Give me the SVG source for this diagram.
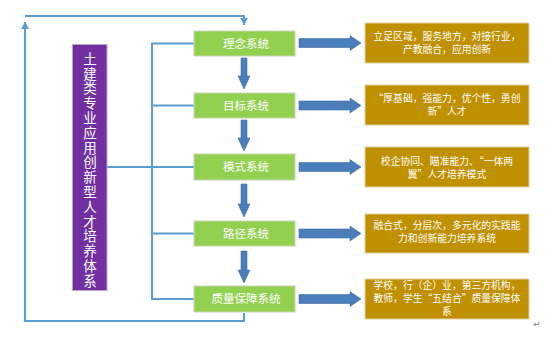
<svg xmlns="http://www.w3.org/2000/svg" width="560" height="340" viewBox="0 0 560 340">
<defs>
<style>
.ln{fill:none;stroke:#5b9bd5;stroke-width:2}
.g rect{fill:#92d050;stroke:#c9d6b8;stroke-width:1}
.b rect{fill:#bf9000;stroke:#e0d2a8;stroke-width:1}
.gt{font-family:"Noto Sans CJK SC","Noto Sans",sans-serif;font-size:11.5px;fill:#fff;text-anchor:middle}
.bt{font-family:"Noto Sans CJK SC","Noto Sans",sans-serif;font-size:9.8px;fill:#fff;text-anchor:middle}
.ar{fill:#4a7ebb;stroke:#3f6fa6;stroke-width:0.6}
.pt{font-family:"Noto Sans CJK SC","Noto Sans",sans-serif;font-size:13.5px;fill:#fff;writing-mode:vertical-rl;letter-spacing:1.3px}
</style>
<marker id="ah" markerUnits="userSpaceOnUse" markerWidth="10" markerHeight="8" refX="7" refY="4" orient="auto">
<path d="M0,0 L7,4 L0,8 Z" fill="#5b9bd5"/>
</marker>
</defs>
<rect width="560" height="340" fill="#fff"/>
<g id="connectors">
<path class="ln" d="M244,313 V321 H25 V22" marker-end="url(#ah)"/>
<path class="ln" d="M25,16 H244 V25" marker-end="url(#ah)"/>
<path class="ln" d="M194,43.5 H152 V299 H194"/>
<path class="ln" d="M152,105.5 H194 M152,233.5 H194 M107,167 H194"/>
<polygon class="ar" points="241,58 247,58 247,76 250,76 244,89 238,76 241,76"/>
<polygon class="ar" points="241,120 247,120 247,138 250,138 244,151 238,138 241,138"/>
<polygon class="ar" points="241,184 247,184 247,204 250,204 244,217 238,204 241,204"/>
<polygon class="ar" points="241,251 247,251 247,270 250,270 244,283 238,270 241,270"/>
<polygon class="ar" points="299,38.5 350,38.5 350,35.5 361,43 350,50.5 350,47.5 299,47.5"/>
<polygon class="ar" points="299,101 350,101 350,98 361,105.5 350,113 350,110 299,110"/>
<polygon class="ar" points="299,162.5 350,162.5 350,159.5 361,167 350,174.5 350,171.5 299,171.5"/>
<polygon class="ar" points="299,229 350,229 350,226 361,233.5 350,241 350,238 299,238"/>
<polygon class="ar" points="299,294.5 350,294.5 350,291.5 361,299 350,306.5 350,303.5 299,303.5"/>
</g>
<g id="main">
<rect x="72.5" y="44.5" width="34.5" height="246" fill="#7030a0" stroke="#b9a7cc" stroke-width="1"/>
<text class="pt" x="90" y="52">土建类专业应用创新型人才培养体系</text>
</g>
<g id="s1" class="g"><rect x="194" y="31" width="101" height="25"/><text class="gt" x="246" y="47.5">理念系统</text></g>
<g id="s2" class="g"><rect x="194" y="93" width="101" height="25"/><text class="gt" x="246" y="109.5">目标系统</text></g>
<g id="s3" class="g"><rect x="194" y="154" width="101" height="26"/><text class="gt" x="246" y="171">模式系统</text></g>
<g id="s4" class="g"><rect x="194" y="221" width="101" height="25"/><text class="gt" x="246" y="237.5">路径系统</text></g>
<g id="s5" class="g"><rect x="194" y="286" width="101" height="26"/><text class="gt" x="246" y="303">质量保障系统</text></g>
<g id="d1" class="b"><rect x="365" y="23" width="164" height="40"/><text class="bt"><tspan x="447" y="39.5">立足区域，服务地方，对接行业，</tspan><tspan x="447" y="53">产教融合，应用创新</tspan></text></g>
<g id="d2" class="b"><rect x="365" y="85" width="164" height="40"/><text class="bt"><tspan x="447" y="102">“厚基础，强能力，优个性，勇创</tspan><tspan x="447" y="115">新”人才</tspan></text></g>
<g id="d3" class="b"><rect x="365" y="147" width="164" height="40"/><text class="bt"><tspan x="447" y="164.5">校企协同、瞄准能力、“一体两</tspan><tspan x="447" y="177.5">翼”人才培养模式</tspan></text></g>
<g id="d4" class="b"><rect x="365" y="214" width="164" height="39"/><text class="bt"><tspan x="447" y="229">融合式，分层次，多元化的实践能</tspan><tspan x="447" y="242">力和创新能力培养系统</tspan></text></g>
<g id="d5" class="b"><rect x="365" y="279" width="164" height="40"/><text class="bt"><tspan x="447" y="289">学校，行（企）业，第三方机构，</tspan><tspan x="447" y="302">教师，学生“五结合”质量保障体</tspan><tspan x="447" y="314.5">系</tspan></text></g>
<text x="537" y="327" font-family="DejaVu Sans,sans-serif" font-size="9" fill="#808080" text-anchor="middle">↵</text>
</svg>
